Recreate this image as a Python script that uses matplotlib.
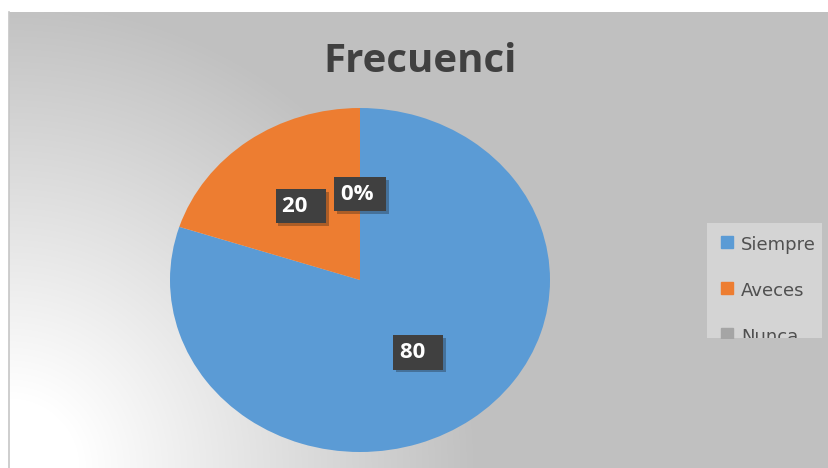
import numpy as np
import matplotlib
matplotlib.use("Agg")
from matplotlib import pyplot as plt
from matplotlib.lines import Line2D
import matplotlib.patheffects as pe

# chart data
title = "Frecuenci"
categories = ["Siempre", "Aveces", "Nunca"]
values = [80, 20, 0]
value_labels = ["80", "20", "0%"]
colors = ["#5B9BD5", "#ED7D31", "#A5A5A5"]

W, H = 829, 468
fig = plt.figure(figsize=(W / 100, H / 100), dpi=100)
fig.patch.set_facecolor("white")

# gray chart area with a white glow in the lower left corner
bg = fig.add_axes([9 / W, 0, (W - 9) / W, (H - 12) / H])
xx, yy = np.meshgrid(np.arange(W - 9), np.arange(H - 12))
d = np.hypot(xx - 0, yy - (H - 12))
t = np.clip((470 - d) / 400, 0, 1)
shade = 192 + (255 - 192) * t
bg.imshow(np.dstack([shade] * 3) / 255, aspect="auto", interpolation="bilinear")
bg.set_axis_off()
fig.add_artist(Line2D([9.5 / W] * 2, [0, (H - 12) / H], color="#c6c6c6", lw=1.2))

# title
fig.text(420 / W, 1 - 62 / H, title, ha="center", va="center", fontsize=29,
         fontfamily="Open Sans", fontweight="bold", color="#404040")

# pie (the original is stretched a bit horizontally)
ax = fig.add_axes([(360 - 190) / W, (H - 452) / H, 380 / W, 344 / H])
ax.pie(values, colors=colors, startangle=90, counterclock=False,
       wedgeprops=dict(linewidth=0))
ax.set_aspect("auto")
ax.set_xlim(-1, 1)
ax.set_ylim(-1, 1)

# data labels in dark boxes
total = sum(values)
dist = [0.52, 0.53, 0.5]
tail = ["  ", "  ", " "]
cum = 0
for v, lab, r, sp in zip(values, value_labels, dist, tail):
    mid = np.deg2rad(90 - 360 * (cum + v / 2) / total)
    cum += v
    t = ax.text(r * np.cos(mid), r * np.sin(mid), lab + sp, ha="center", va="center",
                fontsize=16, fontfamily="Open Sans", fontweight="bold", color="white",
                bbox=dict(boxstyle="square,pad=0.3", fc="#404040", ec="none"))
    t.get_bbox_patch().set_path_effects(
        [pe.SimplePatchShadow(offset=(2, -2), alpha=0.3), pe.Normal()])

# legend panel (clipped at the bottom like the original)
lg = fig.add_axes([707 / W, (H - 338) / H, 115 / W, 115 / H])
lg.set_facecolor("#d4d4d4")
for s in lg.spines.values():
    s.set_visible(False)
lg.set_xticks([])
lg.set_yticks([])
lg.set_xlim(0, 115)
lg.set_ylim(115, 0)
for i, (cat, c) in enumerate(zip(categories, colors)):
    y = 22 + 46 * i
    lg.plot(20, y - 3, marker="s", ms=8, color=c, clip_on=True)
    lg.text(34, y, cat, ha="left", va="center", fontsize=13, color="#505050",
            clip_on=True)

fig.savefig("out.png", dpi=100)
